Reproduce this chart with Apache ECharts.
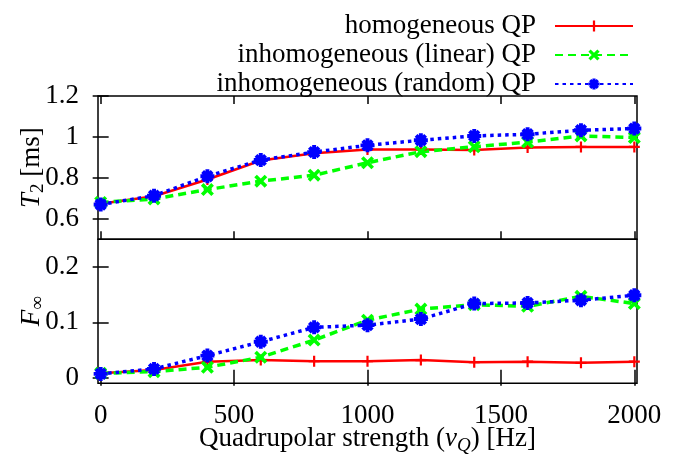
<!DOCTYPE html>
<html>
<head>
<meta charset="utf-8">
<script src="https://cdn.jsdelivr.net/npm/echarts@6/dist/echarts.min.js"></script>
<style>
html,body{margin:0;padding:0;background:#fff;}
#chart{width:695px;height:454px;}
</style>
</head>
<body>
<div id="chart"></div>
<script>
// ---- data ----
const xValues = [0, 200, 400, 600, 800, 1000, 1200, 1400, 1600, 1800, 2000];
const seriesNames = ['homogeneous QP', 'inhomogeneous (linear) QP', 'inhomogeneous (random) QP'];
const t2Homogeneous = [0.674, 0.710, 0.792, 0.885, 0.920, 0.939, 0.939, 0.936, 0.948, 0.951, 0.951];
const t2Linear      = [0.680, 0.697, 0.743, 0.784, 0.813, 0.874, 0.928, 0.952, 0.975, 1.005, 0.997];
const t2Random      = [0.670, 0.713, 0.808, 0.887, 0.926, 0.959, 0.984, 1.005, 1.013, 1.033, 1.041];
const fHomogeneous  = [0.008, 0.014, 0.029, 0.032, 0.030, 0.030, 0.032, 0.028, 0.029, 0.027, 0.029];
const fLinear       = [0.008, 0.011, 0.019, 0.037, 0.068, 0.104, 0.124, 0.132, 0.129, 0.147, 0.134];
const fRandom       = [0.007, 0.016, 0.040, 0.065, 0.091, 0.095, 0.106, 0.134, 0.135, 0.140, 0.149];
const xTicks = [0, 500, 1000, 1500, 2000];
const t2Ticks = [0.6, 0.8, 1, 1.2];
const fTicks = [0, 0.1, 0.2];

// ---- styling ----
const FONT = 'Liberation Serif';
const FS = 27;
const symPlus = 'path://M4,0 L6,0 L6,10 L4,10 Z M0,4 L10,4 L10,6 L0,6 Z';
const symCross = 'path://M2.0,0.0 L10,8.0 L8.0,10 L0.0,2.0 Z M8.0,0.0 L10,2.0 L2.0,10 L0.0,8.0 Z M3,3 L7,3 L7,7 L3,7 Z';
const symStar = 'path://M0,3.6 L10,3.6 L10,6.4 L0,6.4 Z M3.6,0 L6.4,0 L6.4,10 L3.6,10 Z M2.6,0.6 L9.4,7.4 L7.4,9.4 L0.6,2.6 Z M7.4,0.6 L9.4,2.6 L2.6,9.4 L0.6,7.4 Z M2,2 L8,2 L8,8 L2,8 Z';

const styles = [
  {color: '#ff0000', symbol: symPlus, symbolSize: 11, lineStyle: {width: 2.5, type: 'solid'}},
  {color: '#00ff00', symbol: symCross, symbolSize: 13, lineStyle: {width: 3.5, type: [8, 5]}},
  {color: '#0000ff', symbol: symStar, symbolSize: 14, lineStyle: {width: 3.5, type: [3.5, 4]}}
];

function pairs(arr) { return xValues.map((x, i) => [x, arr[i]]); }

const panelData = [[t2Homogeneous, t2Linear, t2Random], [fHomogeneous, fLinear, fRandom]];
const series = [];
panelData.forEach((group, gi) => {
  group.forEach((arr, si) => {
    const s = styles[si];
    series.push({
      name: seriesNames[si],
      type: 'line',
      xAxisIndex: gi,
      yAxisIndex: gi,
      data: pairs(arr),
      symbol: s.symbol,
      symbolSize: s.symbolSize,
      showAllSymbol: true,
      itemStyle: {color: s.color},
      lineStyle: {color: s.color, width: s.lineStyle.width, type: s.lineStyle.type, cap: 'butt'},
      emphasis: {disabled: true},
      clip: false
    });
  });
});

const tickStyle = {show: true, inside: true, length: 8, lineStyle: {color: '#000', width: 1.5}};
const fmt = v => String(v);
const richStyles = {
  i: {fontFamily: FONT, fontSize: FS, fontStyle: 'italic', color: '#000'},
  s: {fontFamily: FONT, fontSize: 19, fontStyle: 'italic', color: '#000', padding: [14, 0, 0, 0]},
  t: {fontFamily: FONT, fontSize: 19, color: '#000', padding: [14, 0, 0, 0]},
  n: {fontFamily: FONT, fontSize: FS, color: '#000'}
};
function xAx(gridIndex, position, showLabel, name) {
  return {
    type: 'value', gridIndex, position, min: -10, max: 2010,
    axisLine: {show: false}, splitLine: {show: false},
    axisTick: Object.assign({customValues: xTicks}, tickStyle),
    axisLabel: {show: showLabel, customValues: xTicks, formatter: fmt, margin: 19, fontFamily: FONT, fontSize: FS, color: '#000'},
    name: name || '', nameLocation: 'middle', nameGap: 39, nameMoveOverlap: false,
    nameTextStyle: {fontFamily: FONT, fontSize: FS, color: '#000', rich: richStyles}
  };
}
function yAx(gridIndex, position, min, max, ticks, showLabel, name, nameGap) {
  return {
    type: 'value', gridIndex, position, min, max,
    axisLine: {show: false}, splitLine: {show: false},
    axisTick: Object.assign({customValues: ticks}, tickStyle),
    axisLabel: {show: showLabel, customValues: ticks, formatter: fmt, margin: 19, fontFamily: FONT, fontSize: FS, color: '#000'},
    name: name || '', nameLocation: 'middle', nameGap: nameGap || 42, nameRotate: 90, nameMoveOverlap: false,
    nameTextStyle: {fontFamily: FONT, fontSize: FS, color: '#000', rich: richStyles}
  };
}

const legends = seriesNames.map((n, i) => ({
  data: [n], right: 61, top: 12.5 + 29 * i, orient: 'vertical', align: 'right',
  itemWidth: 78, itemHeight: 14, padding: 0, selectedMode: false,
  textStyle: {fontFamily: FONT, fontSize: FS, color: '#000', padding: [0, 14, 0, 0]}
}));

const option = {
  animation: false,
  backgroundColor: '#fff',
  legend: legends,
  grid: [
    {left: 98, right: 58, top: 96, height: 143.3, outerBoundsMode: 'none', containLabel: false, show: true, borderColor: '#000', borderWidth: 1.5, backgroundColor: 'transparent'},
    {left: 98, right: 58, top: 239.3, height: 144, outerBoundsMode: 'none', containLabel: false, show: true, borderColor: '#000', borderWidth: 1.5, backgroundColor: 'transparent'}
  ],
  xAxis: [
    xAx(0, 'bottom', false),
    xAx(1, 'bottom', true, '{n|Quadrupolar strength (}{i|ν}{s|Q}{n|) [Hz]}'),
    xAx(0, 'top', false),
    xAx(1, 'top', false)
  ],
  yAxis: [
    yAx(0, 'left', 0.5, 1.2, t2Ticks, true, '{i|T}{t|2}{n| [ms]}', 50),
    yAx(1, 'left', -0.01, 0.25, fTicks, true, '{i|F}{t|∞}', 50),
    yAx(0, 'right', 0.5, 1.2, t2Ticks, false),
    yAx(1, 'right', -0.01, 0.25, fTicks, false)
  ],
  series: series
};
const chart = echarts.init(document.getElementById('chart'), null, {renderer: 'canvas'});
chart.setOption(option);
</script>
</body>
</html>
